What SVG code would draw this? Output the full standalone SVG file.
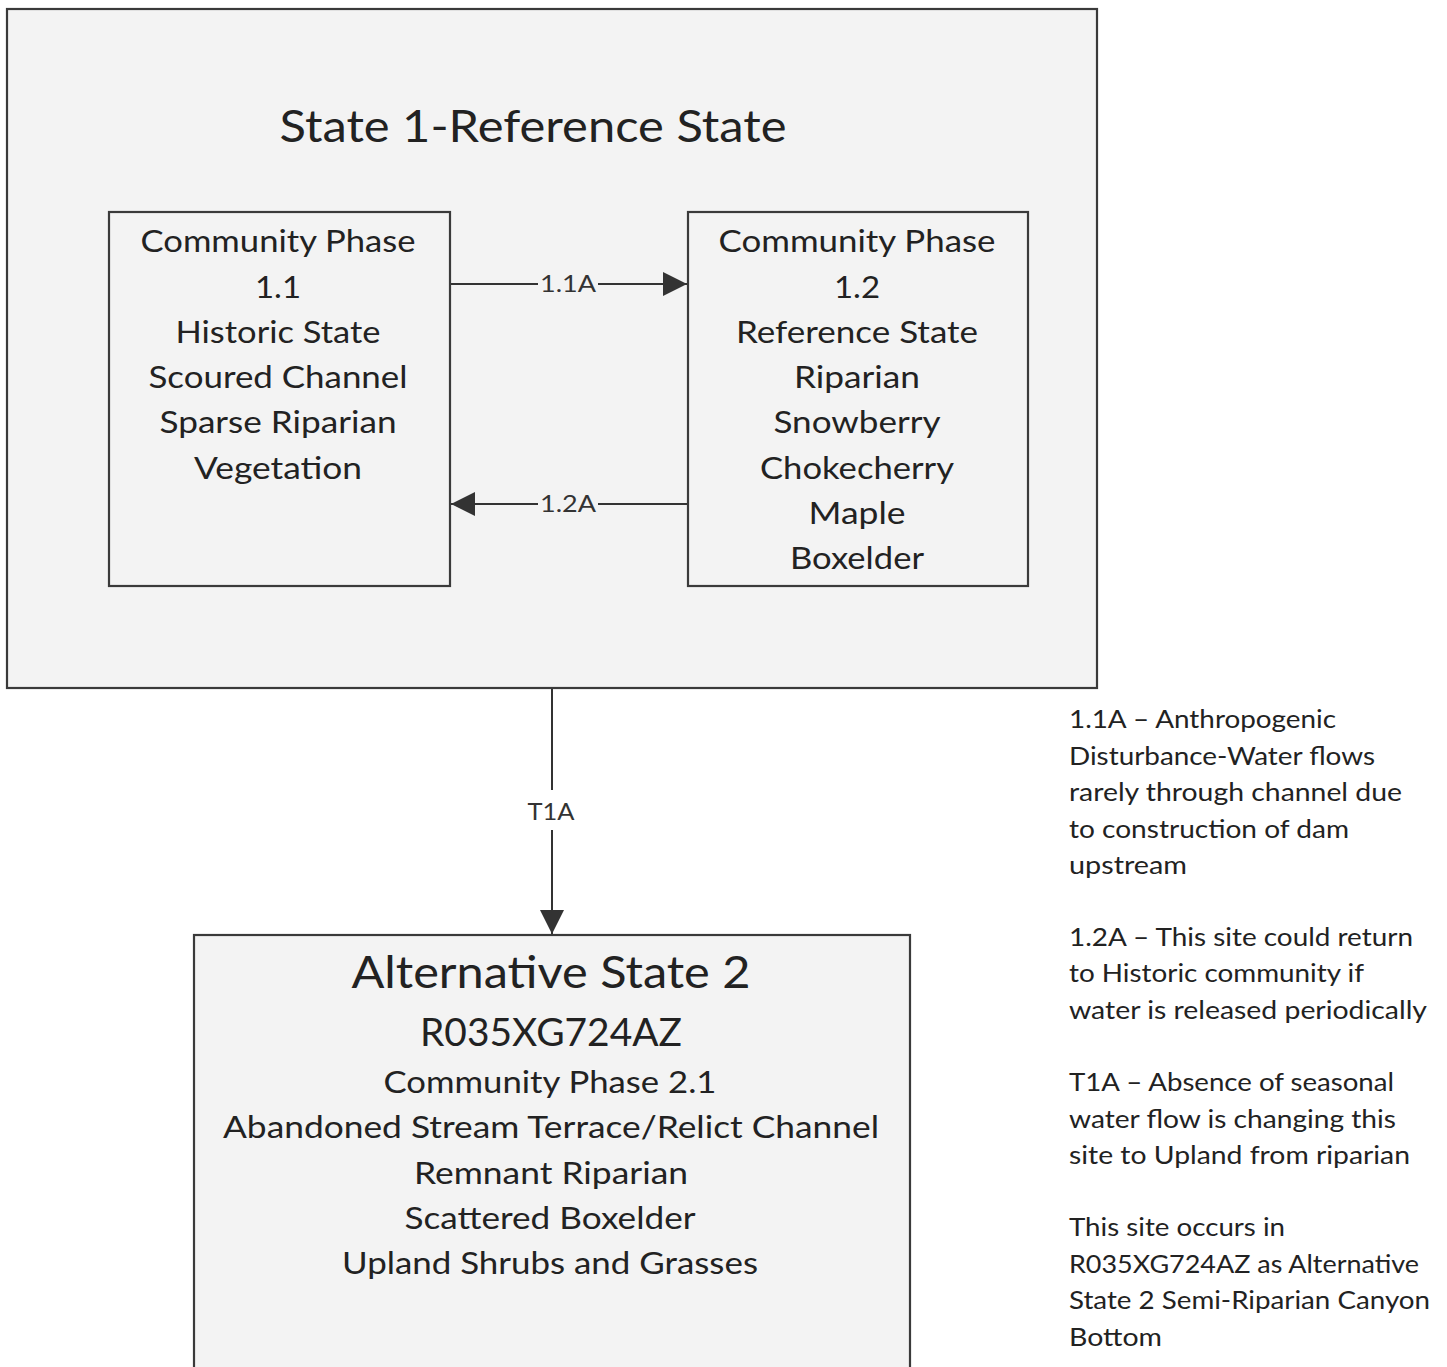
<svg xmlns="http://www.w3.org/2000/svg" width="1447" height="1367" viewBox="0 0 1447 1367">
<style>
.box{fill:#f3f3f3;stroke:#3a3a3a;stroke-width:2.2}
.t{font-family:Lato,"Liberation Sans",sans-serif;fill:#222;text-anchor:middle}
.p{font-size:30px}
.lbl{font-family:Lato,"Liberation Sans",sans-serif;fill:#333;font-size:24px;text-anchor:middle}
.note{font-family:Lato,"Liberation Sans",sans-serif;fill:#222;font-size:25px}
.ln{stroke:#333;stroke-width:2;fill:none}
</style>
<defs>
<marker id="ah2" viewBox="0 0 10 10" refX="10" refY="5" markerWidth="24" markerHeight="24" markerUnits="userSpaceOnUse" orient="auto">
<path d="M0,0 L10,5 L0,10 z" fill="#333"/>
</marker>
</defs>
<rect width="1447" height="1367" fill="#fff"/>
<g id="state1">
<rect class="box" x="7" y="9" width="1090" height="679"/>
<text class="t" x="533" y="142" font-size="44" textLength="507" lengthAdjust="spacingAndGlyphs">State 1-Reference State</text>
</g>
<g id="phase11">
<rect class="box" x="109" y="212" width="341" height="374"/>
<text class="t p" x="278" y="252" textLength="275" lengthAdjust="spacingAndGlyphs">Community Phase</text>
<text class="t p" x="278" y="298" textLength="46" lengthAdjust="spacingAndGlyphs">1.1</text>
<text class="t p" x="278" y="343" textLength="205" lengthAdjust="spacingAndGlyphs">Historic State</text>
<text class="t p" x="278" y="388" textLength="259" lengthAdjust="spacingAndGlyphs">Scoured Channel</text>
<text class="t p" x="278" y="433" textLength="237" lengthAdjust="spacingAndGlyphs">Sparse Riparian</text>
<text class="t p" x="278" y="479" textLength="168" lengthAdjust="spacingAndGlyphs">Vegetation</text>
</g>
<g id="phase12">
<rect class="box" x="688" y="212" width="340" height="374"/>
<text class="t p" x="857" y="252" textLength="277" lengthAdjust="spacingAndGlyphs">Community Phase</text>
<text class="t p" x="857" y="298" textLength="46" lengthAdjust="spacingAndGlyphs">1.2</text>
<text class="t p" x="857" y="343" textLength="242" lengthAdjust="spacingAndGlyphs">Reference State</text>
<text class="t p" x="857" y="388" textLength="126" lengthAdjust="spacingAndGlyphs">Riparian</text>
<text class="t p" x="857" y="433" textLength="167" lengthAdjust="spacingAndGlyphs">Snowberry</text>
<text class="t p" x="857" y="479" textLength="194" lengthAdjust="spacingAndGlyphs">Chokecherry</text>
<text class="t p" x="857" y="524" textLength="97" lengthAdjust="spacingAndGlyphs">Maple</text>
<text class="t p" x="857" y="569" textLength="134" lengthAdjust="spacingAndGlyphs">Boxelder</text>
</g>
<g id="state2">
<rect class="box" x="194" y="935" width="716" height="450"/>
<text class="t" x="551" y="988" font-size="44" textLength="399" lengthAdjust="spacingAndGlyphs">Alternative State 2</text>
<text class="t" x="551" y="1046" font-size="38" textLength="262" lengthAdjust="spacingAndGlyphs">R035XG724AZ</text>
<text class="t p" x="550" y="1093" textLength="333" lengthAdjust="spacingAndGlyphs">Community Phase 2.1</text>
<text class="t p" x="551" y="1138" textLength="656" lengthAdjust="spacingAndGlyphs">Abandoned Stream Terrace/Relict Channel</text>
<text class="t p" x="551" y="1184" textLength="274" lengthAdjust="spacingAndGlyphs">Remnant Riparian</text>
<text class="t p" x="550" y="1229" textLength="291" lengthAdjust="spacingAndGlyphs">Scattered Boxelder</text>
<text class="t p" x="550" y="1274" textLength="416" lengthAdjust="spacingAndGlyphs">Upland Shrubs and Grasses</text>
</g>
<g id="connectors">
<line class="ln" x1="451" y1="284" x2="538" y2="284"/>
<line class="ln" x1="598" y1="284" x2="687" y2="284" marker-end="url(#ah2)"/>
<text class="lbl" x="568" y="292" textLength="56" lengthAdjust="spacingAndGlyphs">1.1A</text>
<line class="ln" x1="687" y1="504" x2="598" y2="504"/>
<line class="ln" x1="538" y1="504" x2="451" y2="504" marker-end="url(#ah2)"/>
<text class="lbl" x="568" y="512" textLength="56" lengthAdjust="spacingAndGlyphs">1.2A</text>
<line class="ln" x1="552" y1="689" x2="552" y2="790"/>
<line class="ln" x1="552" y1="830" x2="552" y2="934" marker-end="url(#ah2)"/>
<text class="lbl" x="551" y="820" textLength="47" lengthAdjust="spacingAndGlyphs">T1A</text>
</g>
<g id="notes">
<text class="note" x="1069" y="728" textLength="267" lengthAdjust="spacingAndGlyphs">1.1A – Anthropogenic</text>
<text class="note" x="1069" y="765" textLength="306" lengthAdjust="spacingAndGlyphs">Disturbance-Water flows</text>
<text class="note" x="1069" y="801" textLength="333" lengthAdjust="spacingAndGlyphs">rarely through channel due</text>
<text class="note" x="1069" y="838" textLength="280" lengthAdjust="spacingAndGlyphs">to construction of dam</text>
<text class="note" x="1069" y="874" textLength="118" lengthAdjust="spacingAndGlyphs">upstream</text>
<text class="note" x="1069" y="946" textLength="344" lengthAdjust="spacingAndGlyphs">1.2A – This site could return</text>
<text class="note" x="1069" y="982" textLength="295" lengthAdjust="spacingAndGlyphs">to Historic community if</text>
<text class="note" x="1069" y="1019" textLength="358" lengthAdjust="spacingAndGlyphs">water is released periodically</text>
<text class="note" x="1069" y="1091" textLength="325" lengthAdjust="spacingAndGlyphs">T1A – Absence of seasonal</text>
<text class="note" x="1069" y="1128" textLength="327" lengthAdjust="spacingAndGlyphs">water flow is changing this</text>
<text class="note" x="1069" y="1164" textLength="341" lengthAdjust="spacingAndGlyphs">site to Upland from riparian</text>
<text class="note" x="1069" y="1236" textLength="216" lengthAdjust="spacingAndGlyphs">This site occurs in</text>
<text class="note" x="1069" y="1273" textLength="350" lengthAdjust="spacingAndGlyphs">R035XG724AZ as Alternative</text>
<text class="note" x="1069" y="1309" textLength="361" lengthAdjust="spacingAndGlyphs">State 2 Semi-Riparian Canyon</text>
<text class="note" x="1069" y="1346" textLength="93" lengthAdjust="spacingAndGlyphs">Bottom</text>
</g>
</svg>
